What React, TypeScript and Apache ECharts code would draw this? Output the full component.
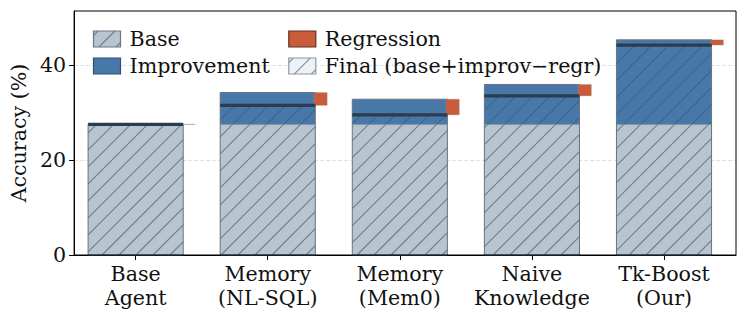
import React, { useEffect, useRef } from "react";
import * as echarts from "echarts";

const categories = ["Base\nAgent", "Memory\n(NL-SQL)", "Memory\n(Mem0)", "Naive\nKnowledge", "Tk-Boost\n(Our)"];
const positions = [0, 1, 2, 3, 4];
const baseValues = [27.5, 27.5, 27.5, 27.5, 27.5];
const improvementValues = [0, 6.7, 5.3, 8.4, 17.8];
const regressionValues = [0, 2.7, 3.3, 2.4, 1.1];
const yTicks = [0, 20, 40];
const legendNames = ["Base", "Improvement", "Regression", "Final (base+improv\u2212regr)"];

const FONT = "'DejaVu Serif', serif";
const FS = 20.6;
const TXT = "#111111";

const C_BASE = "#b8c4d0";
const C_BASE_HATCH = "#6d7d8e";
const C_IMP = "#4878a8";
const C_IMP_HATCH = "#3a6591";
const C_REG = "#c95c3b";
const C_EDGE = "#667382";
const C_FINAL_LINE = "#2c3b4e";
const HATCH = 17;

function hatchSegments(x0: number, y0: number, x1: number, y1: number, s: number, anchor = 0) {
  const segs: number[][] = [];
  const cmin = x0 + y0;
  const cmax = x1 + y1;
  const kStart = Math.ceil((cmin - anchor) / s);
  const kEnd = Math.floor((cmax - anchor) / s);
  for (let k = kStart; k <= kEnd; k++) {
    const c = anchor + k * s;
    const xa = Math.max(x0, c - y1);
    const xb = Math.min(x1, c - y0);
    if (xb - xa > 0.5) segs.push([xa, c - xa, xb, c - xb]);
  }
  return segs;
}

function hatchElements(x0: number, y0: number, x1: number, y1: number, color: string, anchor = 0, z = 0) {
  return hatchSegments(x0, y0, x1, y1, HATCH, anchor).map((s) => ({
    type: "line",
    z,
    silent: true,
    shape: { x1: s[0], y1: s[1], x2: s[2], y2: s[3] },
    style: { stroke: color, lineWidth: 1.1 },
  }));
}

function legendGraphics() {
  const els: any[] = [];
  const sw = 27;
  const sh = 16;
  const items = [
    { x: 93.5, y: 31, fill: C_BASE, stroke: "#6b7785", hatch: C_BASE_HATCH, name: legendNames[0] },
    { x: 93.5, y: 58, fill: C_IMP, stroke: "#2f5173", hatch: null, name: legendNames[1] },
    { x: 288.8, y: 31, fill: C_REG, stroke: "#5b3324", hatch: null, name: legendNames[2] },
    { x: 288.8, y: 58, fill: "#eef2f6", stroke: "#8a96a4", hatch: "#8a98a8", name: legendNames[3] },
  ];
  items.forEach((it) => {
    els.push({
      type: "rect",
      z: 100,
      shape: { x: it.x, y: it.y, width: sw, height: sh },
      style: { fill: it.fill, stroke: null },
    });
    if (it.hatch) {
      const anchor = it.x + sw / 2 + it.y + sh / 2;
      hatchElements(it.x, it.y, it.x + sw, it.y + sh, it.hatch, anchor, 101).forEach((e) => els.push(e));
    }
    els.push({
      type: "rect",
      z: 102,
      shape: { x: it.x, y: it.y, width: sw, height: sh },
      style: { fill: "transparent", stroke: it.stroke, lineWidth: 1.2 },
    });
    els.push({
      type: "text",
      z: 102,
      x: it.x + 36,
      y: it.y + sh / 2,
      style: {
        text: it.name,
        fontFamily: FONT,
        fontSize: FS,
        fill: TXT,
        verticalAlign: "middle",
        align: "left",
      },
    });
  });
  return els;
}

export default function App() {
  const ref = useRef<HTMLDivElement>(null);
  useEffect(() => {
    if (!ref.current) return;
    const chart = echarts.init(ref.current, null, { renderer: "svg" });
    const data = positions.map((p, i) => [p, baseValues[i], improvementValues[i], regressionValues[i]]);
    const option: any = {
      animation: false,
      backgroundColor: "#ffffff",
      grid: {
        left: 74,
        right: 11,
        top: 11,
        bottom: 65,
        show: true,
        borderColor: "#000",
        borderWidth: 1,
        backgroundColor: "transparent",
        z: 10,
      },
      xAxis: {
        type: "value",
        min: -0.466,
        max: 4.545,
        splitLine: { show: false },
        axisLine: { show: true, onZero: false, lineStyle: { color: "#000", width: 1 } },
        axisTick: { show: true, customValues: positions, length: 5, lineStyle: { color: "#000", width: 1 } },
        axisLabel: {
          customValues: positions,
          formatter: (v: number) => categories[Math.round(v)] ?? "",
          fontFamily: FONT,
          fontSize: FS,
          color: TXT,
          lineHeight: 24,
          margin: 7,
        },
      },
      yAxis: {
        type: "value",
        min: 0,
        max: 51.37,
        interval: 20,
        name: "Accuracy (%)",
        nameLocation: "middle",
        nameGap: 43,
        nameTextStyle: { fontFamily: FONT, fontSize: FS, color: TXT },
        axisLine: { show: true, onZero: false, lineStyle: { color: "#000", width: 1 } },
        axisTick: { show: true, customValues: yTicks, length: 5, lineStyle: { color: "#000", width: 1 } },
        axisLabel: { customValues: yTicks, fontFamily: FONT, fontSize: FS, color: TXT, margin: 8 },
        splitLine: { show: true, lineStyle: { color: "#d8d8d8", width: 0.8, type: [4, 2] } },
      },
      series: [
        {
          type: "custom",
          data,
          encode: { x: 0, y: 1 },
          clip: false,
          renderItem: (params: any, api: any) => {
            const i = api.value(0);
            const b = api.value(1);
            const imp = api.value(2);
            const reg = api.value(3);
            const top = b + imp;
            const fin = top - reg;
            const hw = 0.36;
            const [xl, y0] = api.coord([i - hw, 0]);
            const [xr, yb] = api.coord([i + hw, b]);
            const yt = api.coord([i, top])[1];
            const yf = api.coord([i, fin])[1];
            const rx0 = api.coord([i + 0.35, 0])[0];
            const rx1 = api.coord([i + 0.45, 0])[0];
            const children: any[] = [];
            children.push({
              type: "rect",
              shape: { x: xl, y: yb, width: xr - xl, height: y0 - yb },
              style: { fill: C_BASE, stroke: null },
            });
            if (imp > 0) {
              children.push({
                type: "rect",
                shape: { x: xl, y: yt, width: xr - xl, height: yb - yt },
                style: { fill: C_IMP, stroke: null },
              });
            }
            hatchElements(xl, yb, xr, y0, C_BASE_HATCH).forEach((e) => children.push(e));
            if (fin > b) {
              hatchElements(xl, yf, xr, yb, C_IMP_HATCH).forEach((e) => children.push(e));
            }
            children.push({
              type: "rect",
              shape: { x: xl, y: yt, width: xr - xl, height: y0 - yt },
              style: { fill: "transparent", stroke: C_EDGE, lineWidth: 1 },
            });
            if (imp > 0) {
              children.push({
                type: "line",
                shape: { x1: xl, y1: yb, x2: xr, y2: yb },
                style: { stroke: "#7c8a99", lineWidth: 0.8 },
              });
            }
            if (reg > 0) {
              children.push({
                type: "rect",
                shape: { x: rx0, y: yt, width: rx1 - rx0, height: yf - yt },
                style: { fill: C_REG, stroke: "rgba(150,150,150,0.5)", lineWidth: 0.6 },
              });
            } else {
              children.push({
                type: "line",
                shape: { x1: rx0 - 2, y1: yt, x2: rx1, y2: yt },
                style: { stroke: "#aaaaaa", lineWidth: 1 },
              });
            }
            children.push({
              type: "line",
              shape: { x1: xl, y1: yf, x2: xr, y2: yf },
              style: { stroke: C_FINAL_LINE, lineWidth: 3.2 },
            });
            return { type: "group", children };
          },
        },
      ],
      graphic: { elements: legendGraphics() },
    };
    chart.setOption(option);
    return () => chart.dispose();
  }, []);
  return <div ref={ref} style={{ position: "absolute", left: 0, top: 0, width: 747, height: 320 }} />;
}
